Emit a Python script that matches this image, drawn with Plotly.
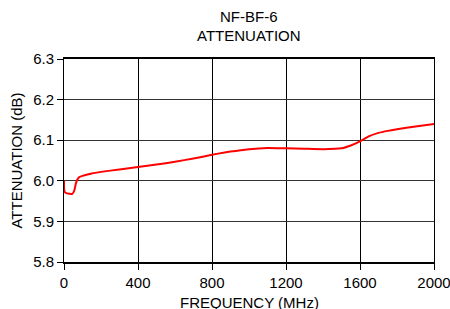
import plotly.graph_objects as go

freq_mhz = [0, 2, 10, 30, 45, 55, 65, 80, 100, 150, 200, 300, 400, 500, 600, 700,
            800, 900, 1000, 1100, 1200, 1300, 1400, 1500, 1550, 1600, 1650, 1700,
            1750, 1800, 1900, 2000]
atten_db = [6.000, 5.975, 5.970, 5.968, 5.968, 5.975, 5.995, 6.008, 6.012, 6.018,
            6.022, 6.028, 6.034, 6.040, 6.047, 6.055, 6.064, 6.072, 6.078, 6.081,
            6.080, 6.079, 6.078, 6.080, 6.087, 6.097, 6.110, 6.118, 6.123, 6.127,
            6.134, 6.140]
x_ticks = [0, 400, 800, 1200, 1600, 2000]
y_ticks = [5.8, 5.9, 6.0, 6.1, 6.2, 6.3]
title_lines = ["NF-BF-6", "ATTENUATION"]
x_title = "FREQUENCY (MHz)"
y_title = "ATTENUATION (dB)"

FONT = "Liberation Sans, Arial, sans-serif"
FS = 15

fig = go.Figure()
fig.add_trace(go.Scatter(x=freq_mhz, y=atten_db, mode="lines",
                         line=dict(color="#ff0000", width=2, shape="spline", smoothing=0.5),
                         showlegend=False))

fig.update_layout(
    width=450, height=309,
    margin=dict(l=64, r=16, t=59, b=47),
    paper_bgcolor="white", plot_bgcolor="white",
    font=dict(family=FONT, size=FS, color="black"),
)
for txt, yy in zip(title_lines, [1.2069, 1.1182]):
    fig.add_annotation(text=txt, xref="paper", yref="paper", x=0.5, y=yy,
                       xanchor="center", yanchor="middle", showarrow=False,
                       font=dict(family=FONT, size=FS, color="black"))
fig.add_annotation(text=x_title, xref="paper", yref="paper", x=0.5, y=-0.2,
                   xanchor="center", yanchor="middle", showarrow=False,
                   font=dict(family=FONT, size=FS, color="black"))

fig.update_xaxes(range=[0, 2000], tickvals=x_ticks, ticktext=[str(v) for v in x_ticks],
                 showgrid=True, gridcolor="black", gridwidth=1,
                 showline=True, linecolor="black", linewidth=2, mirror=True,
                 ticks="outside", ticklen=6, tickcolor="black", zeroline=False,
                 automargin=False, ticklabeloverflow="allow")
fig.update_yaxes(range=[5.8, 6.3], tickvals=y_ticks, ticktext=[f"{v:.1f}" for v in y_ticks],
                 showgrid=True, gridcolor="#333333", gridwidth=1,
                 showline=True, linecolor="black", linewidth=1, mirror=True,
                 ticks="outside", ticklen=6, tickcolor="black", zeroline=False,
                 automargin=False,
                 title=dict(text=y_title, standoff=6,
                            font=dict(family=FONT, size=FS)))

fig.write_html("out.html", config={"displayModeBar": False},
               post_script="document.body.style.margin='0';document.body.style.overflow='hidden';")
